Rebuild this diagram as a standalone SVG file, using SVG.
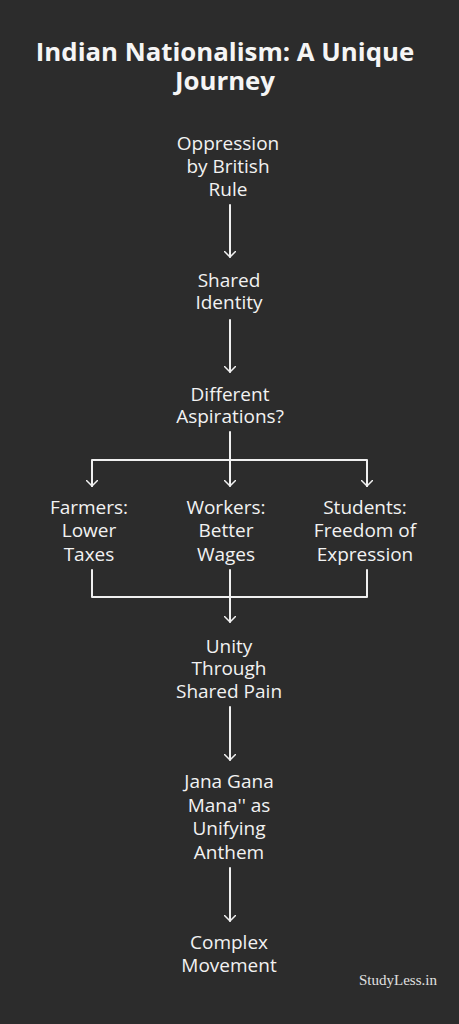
<svg xmlns="http://www.w3.org/2000/svg" width="459" height="1024" viewBox="0 0 459 1024">
<defs>
<style>
.t{font-family:"Open Sans","Noto Sans",sans-serif;font-size:19px;fill:#f2f2f2;text-anchor:middle}
.h{font-family:"Open Sans","Noto Sans",sans-serif;font-size:25.8px;font-weight:bold;fill:#f5f5f5;text-anchor:middle}
.w{font-family:"Liberation Serif","Times New Roman",serif;font-size:15px;fill:#e0e0e0}
.c{fill:none;stroke:#f0f0f0;stroke-width:2;stroke-linecap:round;stroke-linejoin:round}
</style>
<marker id="ah" markerWidth="12" markerHeight="12" refX="8" refY="8" viewBox="0 0 16 16" markerUnits="userSpaceOnUse" orient="auto">
<path d="M0 0 L8 8 L0 16" fill="none" stroke="#f0f0f0" stroke-width="2" stroke-linecap="round" stroke-linejoin="round"/>
</marker>
</defs>
<rect width="459" height="1024" fill="#2c2c2c"/>
<g id="title">
<text class="h" x="225" y="61">Indian Nationalism: A Unique</text>
<text class="h" x="225" y="90">Journey</text>
</g>
<g id="connectors">
<line class="c" x1="230" y1="205" x2="230" y2="257" marker-end="url(#ah)"/>
<line class="c" x1="230" y1="320" x2="230" y2="372" marker-end="url(#ah)"/>
<line class="c" x1="230" y1="432" x2="230" y2="486" marker-end="url(#ah)"/>
<polyline class="c" points="92,486 92,460 367,460 367,486"/>
<line class="c" x1="92" y1="484" x2="92" y2="486" marker-end="url(#ah)"/>
<line class="c" x1="367" y1="484" x2="367" y2="486" marker-end="url(#ah)"/>
<polyline class="c" points="92,570 92,597 367,597 367,570"/>
<line class="c" x1="230" y1="570" x2="230" y2="622" marker-end="url(#ah)"/>
<line class="c" x1="230" y1="707" x2="230" y2="760" marker-end="url(#ah)"/>
<line class="c" x1="230" y1="868" x2="230" y2="921" marker-end="url(#ah)"/>
</g>
<g id="oppression">
<text class="t" x="228" y="150">Oppression</text>
<text class="t" x="228" y="173">by British</text>
<text class="t" x="228" y="196">Rule</text>
</g>
<g id="shared-identity">
<text class="t" x="229" y="287">Shared</text>
<text class="t" x="229" y="309">Identity</text>
</g>
<g id="aspirations">
<text class="t" x="230" y="401">Different</text>
<text class="t" x="230" y="423">Aspirations?</text>
</g>
<g id="farmers">
<text class="t" x="89" y="514">Farmers:</text>
<text class="t" x="89" y="537">Lower</text>
<text class="t" x="89" y="561">Taxes</text>
</g>
<g id="workers">
<text class="t" x="226" y="514">Workers:</text>
<text class="t" x="226" y="537">Better</text>
<text class="t" x="226" y="561">Wages</text>
</g>
<g id="students">
<text class="t" x="365" y="514">Students:</text>
<text class="t" x="365" y="537">Freedom of</text>
<text class="t" x="365" y="561">Expression</text>
</g>
<g id="unity">
<text class="t" x="229" y="653">Unity</text>
<text class="t" x="229" y="675">Through</text>
<text class="t" x="229" y="698">Shared Pain</text>
</g>
<g id="anthem">
<text class="t" x="229" y="788">Jana Gana</text>
<text class="t" x="229" y="812">Mana'' as</text>
<text class="t" x="229" y="835">Unifying</text>
<text class="t" x="229" y="859">Anthem</text>
</g>
<g id="complex">
<text class="t" x="229" y="949">Complex</text>
<text class="t" x="229" y="972">Movement</text>
</g>
<text class="w" x="359" y="985">StudyLess.in</text>
</svg>
